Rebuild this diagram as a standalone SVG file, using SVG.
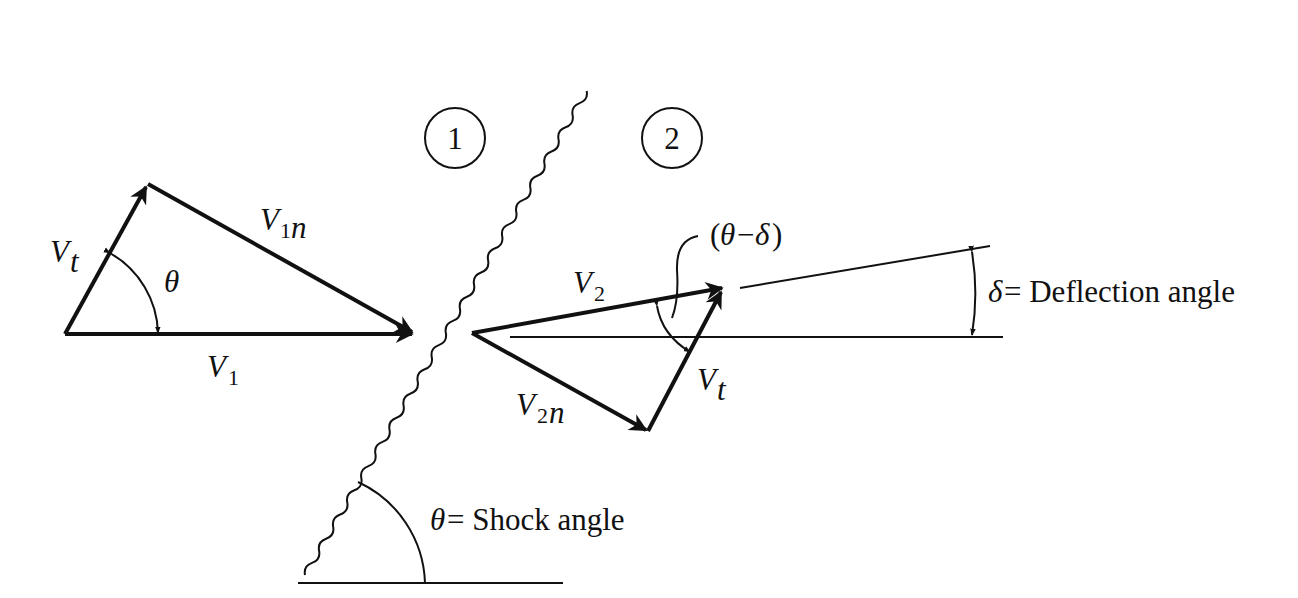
<svg xmlns="http://www.w3.org/2000/svg" width="1298" height="598" viewBox="0 0 1298 598">
<defs>
<style>
.l{stroke:#111;fill:none;stroke-width:2}
.b{stroke:#111;fill:none;stroke-width:4}
text{font-family:'Liberation Serif','DejaVu Serif',serif;fill:#111}
.t{font-size:31px;font-style:italic}
.r{font-size:31px}
.s{font-size:22px}
</style>
<marker id="a" viewBox="0 0 10 10" refX="9" refY="5" markerWidth="7" markerHeight="7" markerUnits="userSpaceOnUse" orient="auto"><path d="M0,1 L10,5 L0,9 z" fill="#111"/></marker>
<marker id="m" viewBox="0 0 10 10" refX="9" refY="5" markerWidth="22" markerHeight="18" markerUnits="userSpaceOnUse" orient="auto"><path d="M0,0 L10,5 L0,10 L3,5 z" fill="#111"/></marker>
</defs>
<rect width="1298" height="598" fill="#fff"/>
<g id="shock"><path class="l" transform="translate(305,575) rotate(-59.8)" d="M0,0 q7,-6 14,0 t14,0 t14,0 t14,0 t14,0 t14,0 t14,0 t14,0 t14,0 t14,0 t14,0 t14,0 t14,0 t14,0 t14,0 t14,0 t14,0 t14,0 t14,0 t14,0 t14,0 t14,0 t14,0 t14,0 t14,0 t14,0 t14,0 t14,0 t14,0 t14,0 t14,0 t14,0 t14,0 t14,0 t14,0 t14,0 t14,0 t14,0 t14,0 t14,0"/>
<line class="l" x1="298" y1="583" x2="563" y2="583"/>
<path class="l" d="M358,482 A115,115 0 0 1 425,583"/>
<text class="t" x="430" y="530">θ</text><text class="r" x="447" y="530">= Shock angle</text>
</g>
<g id="regions">
<circle class="l" cx="455" cy="138" r="30"/><text class="r" x="455" y="149" text-anchor="middle">1</text>
<circle class="l" cx="672" cy="138" r="30"/><text class="r" x="672" y="149" text-anchor="middle">2</text>
</g>
<g id="connectors">
<line class="b" x1="65" y1="334" x2="412" y2="334" marker-end="url(#m)"/>
<line class="b" x1="65" y1="334" x2="146" y2="187" marker-end="url(#m)"/>
<line class="b" x1="148" y1="184" x2="412" y2="332" marker-end="url(#m)"/>
<path class="l" d="M110,253 A95,95 0 0 1 158,333" marker-start="url(#a)" marker-end="url(#a)"/>
<line class="b" x1="472" y1="333" x2="722" y2="288" marker-end="url(#m)"/>
<line class="b" x1="472" y1="333" x2="646" y2="430" marker-end="url(#m)"/>
<line class="b" x1="648" y1="431" x2="721" y2="292" marker-end="url(#m)"/>
<line class="l" x1="510" y1="337" x2="1003" y2="337"/>
<line class="l" x1="740" y1="288" x2="990" y2="246"/>
<path class="l" d="M972,252 A260,260 0 0 1 972,335" marker-start="url(#a)" marker-end="url(#a)"/>
<path class="l" d="M657,306 Q662,335 690,352" marker-start="url(#a)" marker-end="url(#a)"/>
<path class="l" d="M698,236 Q676,240 677,270 Q679,300 672,318"/>
</g>
<g id="labels">
<text class="t" x="50" y="262">V</text><text class="t" x="70" y="272" font-size="22">t</text>
<text class="t" x="164" y="292">θ</text>
<text class="t" x="260" y="230">V</text><text class="s" x="280" y="238">1</text><text class="t" x="291" y="238" font-size="22">n</text>
<text class="t" x="207" y="377">V</text><text class="s" x="228" y="385">1</text>
<text class="t" x="573" y="293">V</text><text class="s" x="594" y="301">2</text>
<text class="t" x="516" y="415">V</text><text class="s" x="537" y="423">2</text><text class="t" x="549" y="423" font-size="22">n</text>
<text class="t" x="697" y="390">V</text><text class="t" x="717" y="400" font-size="22">t</text>
<text class="r" x="710" y="245">(</text><text class="t" x="720" y="245">θ</text><text class="r" x="737" y="245">−</text><text class="t" x="755" y="245">δ</text><text class="r" x="772" y="245">)</text>
<text class="t" x="988" y="302">δ</text><text class="r" x="1004" y="302">= Deflection angle</text>
</g>
</svg>
